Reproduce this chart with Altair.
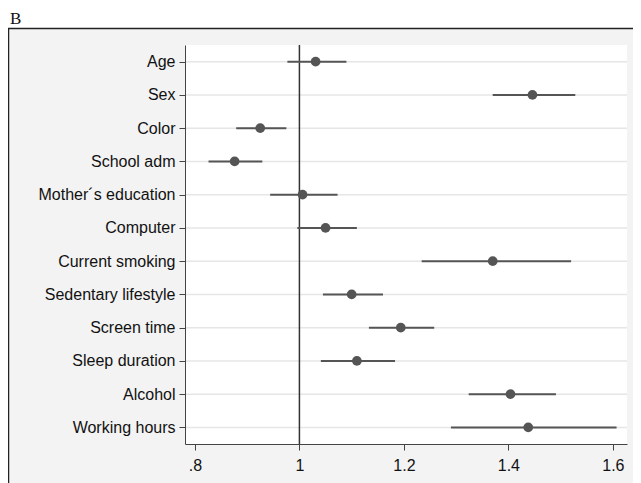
import altair as alt
import pandas as pd

categories = ["Age", "Sex", "Color", "School adm", "Mother´s education", "Computer",
              "Current smoking", "Sedentary lifestyle", "Screen time", "Sleep duration",
              "Alcohol", "Working hours"]
estimate = [1.031, 1.446, 0.925, 0.876, 1.006, 1.050, 1.370, 1.100, 1.194, 1.110, 1.404, 1.438]
ci_low = [0.977, 1.370, 0.879, 0.826, 0.944, 0.996, 1.234, 1.045, 1.133, 1.041, 1.324, 1.290]
ci_high = [1.090, 1.528, 0.975, 0.929, 1.073, 1.110, 1.520, 1.160, 1.258, 1.183, 1.491, 1.607]
tick_values = [0.8, 1.0, 1.2, 1.4, 1.6]
tick_labels = [".8", "1", "1.2", "1.4", "1.6"]
panel_label = "B"
reference_value = 1.0

df = pd.DataFrame({"var": categories, "est": estimate, "lo": ci_low, "hi": ci_high})
one = pd.DataFrame({"a": [0]})

W, H = 442, 399
PAD_R = 6
GRAY = "#555555"

label_expr = " : ".join(
    f"datum.value == {v} ? '{l}'" for v, l in zip(tick_values, tick_labels)
) + " : ''"

xscale = alt.Scale(domain=[0.781, 1.627], nice=False, zero=False)
yscale = alt.Scale(type="point", padding=0.5, domain=categories)

xaxis = alt.Axis(values=tick_values, labelExpr=label_expr, title=None, grid=False,
                 labelFont="Liberation Sans", labelFontSize=16, labelColor="#111111",
                 tickSize=6, tickColor="#444444", domainColor="#444444",
                 labelPadding=7, zindex=1)
yaxis = alt.Axis(title=None, grid=False, labelFont="Liberation Sans", labelFontSize=16,
                 labelColor="#111111", tickSize=6, tickColor="#444444",
                 domainColor="#444444", labelPadding=4, labelLimit=300, zindex=1)

bg = alt.Chart(one).mark_rect(fill="#f3f3f3").encode(
    x=alt.value(-177), x2=alt.value(W + PAD_R), y=alt.value(-17), y2=alt.value(H + 80))

top_border = alt.Chart(one).mark_rule(color="#222222", strokeWidth=1.5).encode(
    x=alt.value(-177), x2=alt.value(W + PAD_R), y=alt.value(-16.5))

left_border = alt.Chart(one).mark_rule(color="#222222", strokeWidth=1.5).encode(
    x=alt.value(-176.5), y=alt.value(-17), y2=alt.value(H + 80))

panel = alt.Chart(one).mark_rect(fill="white").encode(
    x=alt.value(0), x2=alt.value(W), y=alt.value(0), y2=alt.value(H))

grid = alt.Chart(df).mark_rule(color="#e6e6e6", strokeWidth=1.5).encode(
    y=alt.Y("var:N", scale=yscale, axis=yaxis, sort=categories),
    x=alt.value(0), x2=alt.value(W))

ref = alt.Chart(pd.DataFrame({"r": [reference_value]})).mark_rule(
    color="#333333", strokeWidth=1.5).encode(
    x=alt.X("r:Q", scale=xscale, axis=xaxis), y=alt.value(0), y2=alt.value(H))

ci = alt.Chart(df).mark_rule(color=GRAY, strokeWidth=2).encode(
    x=alt.X("lo:Q", scale=xscale, axis=xaxis), x2="hi:Q",
    y=alt.Y("var:N", scale=yscale, axis=yaxis, sort=categories))

pts = alt.Chart(df).mark_point(filled=True, color=GRAY, size=95, opacity=1).encode(
    x=alt.X("est:Q", scale=xscale, axis=xaxis),
    y=alt.Y("var:N", scale=yscale, axis=yaxis, sort=categories))

title = alt.Chart(one).mark_text(text=panel_label, font="Liberation Serif", fontSize=17,
                                 align="left", baseline="alphabetic", color="#111111").encode(
    x=alt.value(-175), y=alt.value(-21))

chart = alt.layer(bg, top_border, left_border, panel, grid, ref, ci, pts, title).properties(
    width=W, height=H,
    autosize=alt.AutoSizeParams(type="none"),
    padding={"left": 177, "top": 37, "right": PAD_R, "bottom": 39},
    background="white",
).configure_view(strokeWidth=0)

chart.save("out.html", embed_options={"renderer": "svg", "actions": False})
